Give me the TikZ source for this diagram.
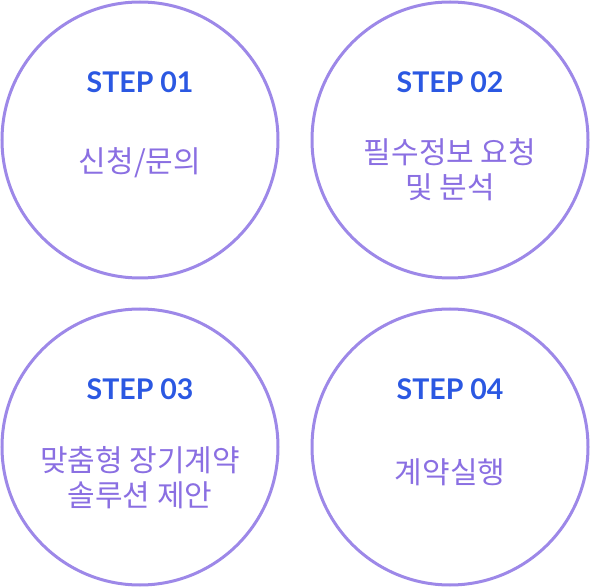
\documentclass[tikz,border=0pt]{standalone}
\usepackage{fontspec}
\setmainfont{Lato}
\newfontfamily\krfont{Noto Sans CJK KR}
\usepackage{tikz}

\definecolor{ringcol}{RGB}{157,136,232}
\definecolor{stepcol}{RGB}{43,88,226}
\definecolor{textcol}{RGB}{138,111,226}

\tikzset{
  ring/.style = {circle, draw = ringcol, line width = 3pt, minimum size = 276pt, inner sep = 0pt},
  steplabel/.style = {font = \bfseries\fontsize{28.5}{32}\selectfont, text = stepcol, inner sep = 0pt},
  tasklabel/.style = {font = \krfont\fontsize{30}{35}\selectfont, text = textcol, align = center, inner sep = 0pt}
}

\begin{document}
\begin{tikzpicture}[x = 1pt, y = -1pt]
    \useasboundingbox (0,0) rectangle (590,588);
    % Draw the circles
    \node[ring] (ringa) at (140,140) {};
    \node[ring] (ringb) at (450,140) {};
    \node[ring] (ringc) at (140,447) {};
    \node[ring] (ringd) at (450,447) {};
    % Step numbers
    \node[steplabel] (stepa) at (140,82) {STEP 01};
    \node[steplabel] (stepb) at (450,82) {STEP 02};
    \node[steplabel] (stepc) at (140,389) {STEP 03};
    \node[steplabel] (stepd) at (450,389) {STEP 04};
    % Tasks
    \node[tasklabel] (taska) at (140,163) {신청/문의};
    \node[tasklabel] (taskb) at (450,169.5) {필수정보 요청\\및 분석};
    \node[tasklabel] (taskc) at (140,477.5) {맞춤형 장기계약\\솔루션 제안};
    \node[tasklabel] (taskd) at (450,472) {계약실행};
  \end{tikzpicture}
\end{document}
